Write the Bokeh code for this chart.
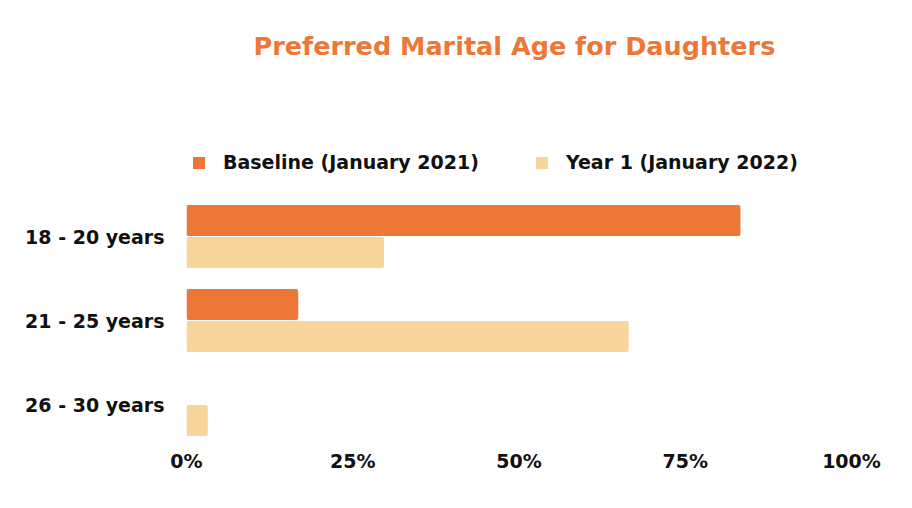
from bokeh.plotting import figure
from bokeh.models import ColumnDataSource, FixedTicker, NumeralTickFormatter, Legend, LegendItem, Title, Range1d
from bokeh.transform import dodge
from bokeh.embed import file_html
from bokeh.resources import INLINE

categories = ["18 - 20 years", "21 - 25 years", "26 - 30 years"]
baseline = [0.833, 0.168, 0.0]
year1 = [0.297, 0.665, 0.032]
series_names = ["Baseline (January 2021)", "Year 1 (January 2022)"]
x_ticks = [0, 0.25, 0.5, 0.75, 1.0]

ORANGE = "#ED7737"
PALE = "#F8D59C"
FONT = "DejaVu Sans"

# categories placed top to bottom
pos = [len(categories) - 1 - i for i in range(len(categories))]
src = ColumnDataSource(dict(pos=pos, base=baseline, y1=year1))

p = figure(frame_width=665, frame_height=358, output_backend="svg", toolbar_location=None,
           y_range=Range1d(-0.5, 3.762), x_range=Range1d(0, 1),
           min_border_left=186, min_border_right=53, min_border_top=0, min_border_bottom=20)

r1 = p.hbar(y=dodge("pos", 0.19), right="base", left=0, height=0.37,
            source=src, color=ORANGE, line_color=None, border_radius=2)
r2 = p.hbar(y=dodge("pos", -0.19), right="y1", left=0, height=0.37,
            source=src, color=PALE, line_color=None, border_radius=2)

p.outline_line_color = None
p.grid.visible = False

for ax in (p.xaxis[0], p.yaxis[0]):
    ax.axis_line_color = None
    ax.major_tick_line_color = None
    ax.minor_tick_line_color = None
    ax.major_tick_out = 0
    ax.major_tick_in = 0
    ax.major_label_text_font = FONT
    ax.major_label_text_font_style = "bold"
    ax.major_label_text_font_size = "19px"
    ax.major_label_text_color = "#111111"

p.xaxis.ticker = FixedTicker(ticks=x_ticks)
p.xaxis.formatter = NumeralTickFormatter(format="0%")
p.xaxis.major_label_standoff = 3
p.yaxis.ticker = FixedTicker(ticks=pos)
p.yaxis.major_label_overrides = {pv: c for pv, c in zip(pos, categories)}
p.yaxis.major_label_standoff = 22

legend = Legend(items=[LegendItem(label=series_names[0], renderers=[r1]),
                       LegendItem(label=series_names[1], renderers=[r2])],
                orientation="horizontal", location=(5, 273),
                glyph_width=15, glyph_height=15, label_standoff=17, spacing=55,
                label_text_font=FONT, label_text_font_style="bold", label_text_font_size="19px",
                label_text_color="#111111", border_line_color=None, background_fill_alpha=0,
                margin=0, padding=7)
p.add_layout(legend, "center")

p.title = Title(text="Preferred Marital Age for Daughters", align="left", offset=67,
                text_font=FONT, text_font_style="bold", text_font_size="25.5px",
                text_color=ORANGE, standoff=56)

open("out.html", "w").write(file_html(p, INLINE))
